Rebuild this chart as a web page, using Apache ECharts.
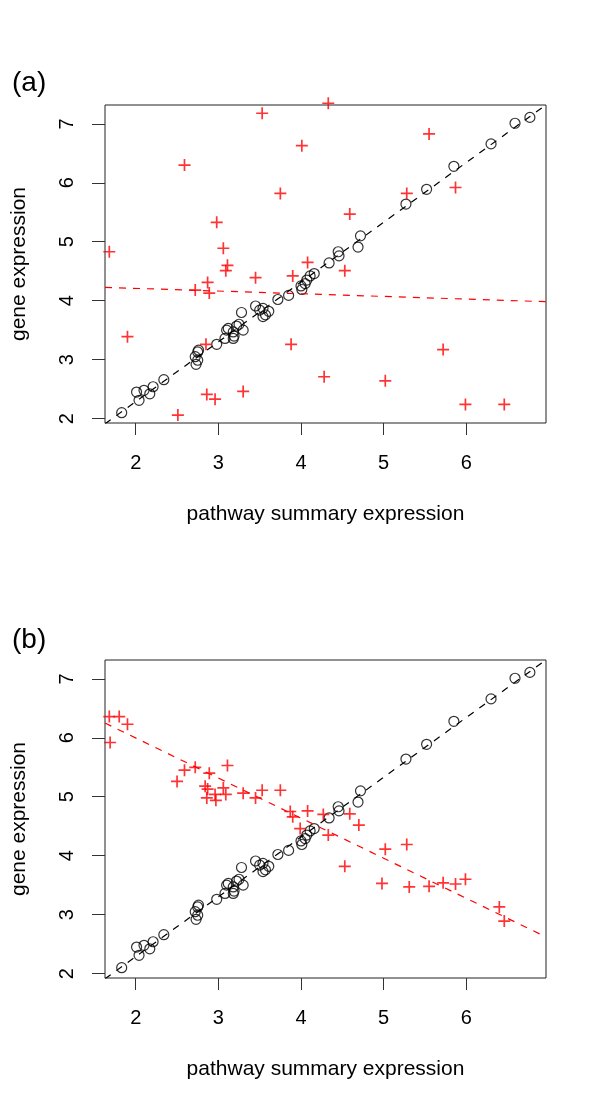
<!DOCTYPE html>
<html>
<head>
<meta charset="utf-8">
<script src="https://cdn.jsdelivr.net/npm/echarts@6/dist/echarts.min.js"></script>
<style>
  html, body { margin: 0; padding: 0; background: #fff; }
  #chart { width: 600px; height: 1110px; }
</style>
</head>
<body>
<div id="chart"></div>
<script>
// black circles, identical in both panels
const circX = [1.83, 2.01, 2.04, 2.10, 2.17, 2.21, 2.34, 2.73, 2.75, 2.76, 2.72, 2.75,
  2.98, 3.08, 3.10, 3.12, 3.18, 3.18, 3.19, 3.22, 3.28, 3.30, 3.25, 3.45, 3.50, 3.54,
  3.54, 3.57, 3.61, 3.72, 3.85, 4.00, 4.01, 4.05, 4.07, 4.11, 4.16, 4.34, 4.45, 4.46,
  4.69, 4.72, 5.27, 5.52, 5.85, 6.30, 6.59, 6.77];
const circY = [2.10, 2.45, 2.31, 2.48, 2.42, 2.54, 2.66, 2.92, 3.13, 3.16, 3.05, 2.99,
  3.26, 3.36, 3.50, 3.53, 3.47, 3.36, 3.40, 3.57, 3.80, 3.50, 3.60, 3.91, 3.84, 3.73,
  3.87, 3.76, 3.82, 4.02, 4.09, 4.25, 4.19, 4.29, 4.35, 4.42, 4.46, 4.64, 4.83, 4.76,
  4.91, 5.10, 5.64, 5.89, 6.28, 6.66, 7.01, 7.11];

// red crosses, panel (a)
const redAX = [3.53, 4.01, 2.59, 3.75, 2.98, 1.68, 3.06, 3.11, 3.09, 4.08, 4.33, 5.55,
  5.28, 5.87, 4.59, 3.45, 3.90, 2.87, 2.72, 2.89, 1.90, 2.85, 3.88, 2.86, 2.96, 3.30,
  2.51, 4.53, 4.28, 5.02, 5.72, 5.99, 6.46];
const redAY = [7.18, 6.63, 6.30, 5.82, 5.33, 4.83, 4.89, 4.60, 4.51, 4.65, 7.35, 6.83,
  5.82, 5.92, 5.47, 4.39, 4.42, 4.31, 4.18, 4.13, 3.39, 3.26, 3.26, 2.41, 2.33, 2.46,
  2.06, 4.51, 2.71, 2.64, 3.17, 2.24, 2.24];

// red crosses, panel (b)
const redBX = [1.68, 1.80, 1.90, 1.69, 2.50, 2.59, 2.72, 2.89, 3.11, 2.84, 2.87, 2.86,
  2.97, 2.96, 3.06, 3.09, 3.30, 3.45, 3.53, 3.75, 3.87, 3.90, 4.08, 3.99, 4.27, 4.59,
  4.70, 4.33, 4.53, 5.02, 5.28, 4.98, 5.31, 5.55, 5.72, 5.87, 5.99, 6.40, 6.46];
const redBY = [6.36, 6.36, 6.23, 5.92, 5.26, 5.45, 5.50, 5.40, 5.53, 5.18, 5.13, 4.98,
  4.94, 5.04, 5.15, 5.04, 5.06, 4.98, 5.11, 5.11, 4.75, 4.66, 4.76, 4.46, 4.70, 4.71,
  4.52, 4.35, 3.82, 4.11, 4.19, 3.53, 3.47, 3.48, 3.54, 3.52, 3.60, 3.13, 2.89];

// dashed fit lines: [intercept, slope]
const fitBlack = [0.26, 1.014];
const fitRedA = [4.30, -0.0455];
const fitRedB = [7.357, -0.680];

const xTicks = [2, 3, 4, 5, 6];
const yTicks = [2, 3, 4, 5, 6, 7];
const xRange = [1.628, 6.965];
const yRange = [1.925, 7.32];

const font = '"Liberation Sans", Arial, Helvetica, sans-serif';
const cross = 'path://M5,0 L5,10 M0,5 L10,5';

function pairs(xs, ys) {
  return xs.map((x, i) => [x, ys[i]]);
}
function fitLine(f) {
  return xRange.map(x => [x, f[0] + f[1] * x]);
}

function xAxisFor(idx) {
  return {
    type: 'value', gridIndex: idx, min: xRange[0], max: xRange[1],
    name: 'pathway summary expression', nameLocation: 'middle', nameGap: 81,
    nameTextStyle: { fontFamily: font, fontSize: 21, color: '#000' },
    axisLine: { show: false },
    axisTick: { show: true, inside: false, length: 12, customValues: xTicks,
      lineStyle: { color: '#333', width: 1 } },
    axisLabel: { customValues: xTicks, margin: 30, fontFamily: font, fontSize: 20, color: '#000' },
    splitLine: { show: false }
  };
}
function yAxisFor(idx) {
  return {
    type: 'value', gridIndex: idx, min: yRange[0], max: yRange[1],
    name: 'gene expression', nameLocation: 'middle', nameGap: 75,
    nameTextStyle: { fontFamily: font, fontSize: 21, color: '#000' },
    axisLine: { show: false },
    axisTick: { show: true, inside: false, length: 13, customValues: yTicks,
      lineStyle: { color: '#333', width: 1 } },
    axisLabel: { customValues: yTicks, rotate: 90, margin: 28, fontFamily: font, fontSize: 20, color: '#000' },
    splitLine: { show: false }
  };
}

function circles(idx) {
  return {
    type: 'scatter', xAxisIndex: idx, yAxisIndex: idx, data: pairs(circX, circY),
    symbol: 'circle', symbolSize: 10, clip: false, silent: true,
    itemStyle: { color: 'rgba(0,0,0,0)', borderColor: '#000', borderWidth: 1.2 }
  };
}
function crosses(idx, xs, ys) {
  return {
    type: 'scatter', xAxisIndex: idx, yAxisIndex: idx, data: pairs(xs, ys),
    symbol: cross, symbolSize: 12, clip: false, silent: true,
    itemStyle: { color: 'rgba(0,0,0,0)', borderColor: '#ff0000', borderWidth: 1.7 }
  };
}
function dashed(idx, f, color) {
  return {
    type: 'line', xAxisIndex: idx, yAxisIndex: idx, data: fitLine(f),
    symbol: 'none', clip: true, silent: true,
    lineStyle: { color: color, width: 1.2, type: [7, 7] }
  };
}

const chart = echarts.init(document.getElementById('chart'), null, { renderer: 'canvas' });
chart.setOption({
  backgroundColor: '#fff',
  animation: false,
  title: [
    { text: '(a)', left: 7, top: 64, textStyle: { fontFamily: font, fontSize: 28, fontWeight: 'normal', color: '#000' } },
    { text: '(b)', left: 7, top: 621, textStyle: { fontFamily: font, fontSize: 28, fontWeight: 'normal', color: '#000' } }
  ],
  grid: [
    { left: 105, top: 105, width: 441, height: 318, show: true, borderColor: '#222', borderWidth: 1, backgroundColor: 'rgba(0,0,0,0)' },
    { left: 105, top: 660, width: 441, height: 318, show: true, borderColor: '#222', borderWidth: 1, backgroundColor: 'rgba(0,0,0,0)' }
  ],
  xAxis: [xAxisFor(0), xAxisFor(1)],
  yAxis: [yAxisFor(0), yAxisFor(1)],
  series: [
    circles(0),
    dashed(0, fitBlack, '#000'),
    crosses(0, redAX, redAY),
    dashed(0, fitRedA, '#ff0000'),
    circles(1),
    dashed(1, fitBlack, '#000'),
    crosses(1, redBX, redBY),
    dashed(1, fitRedB, '#ff0000')
  ]
});
</script>
</body>
</html>
